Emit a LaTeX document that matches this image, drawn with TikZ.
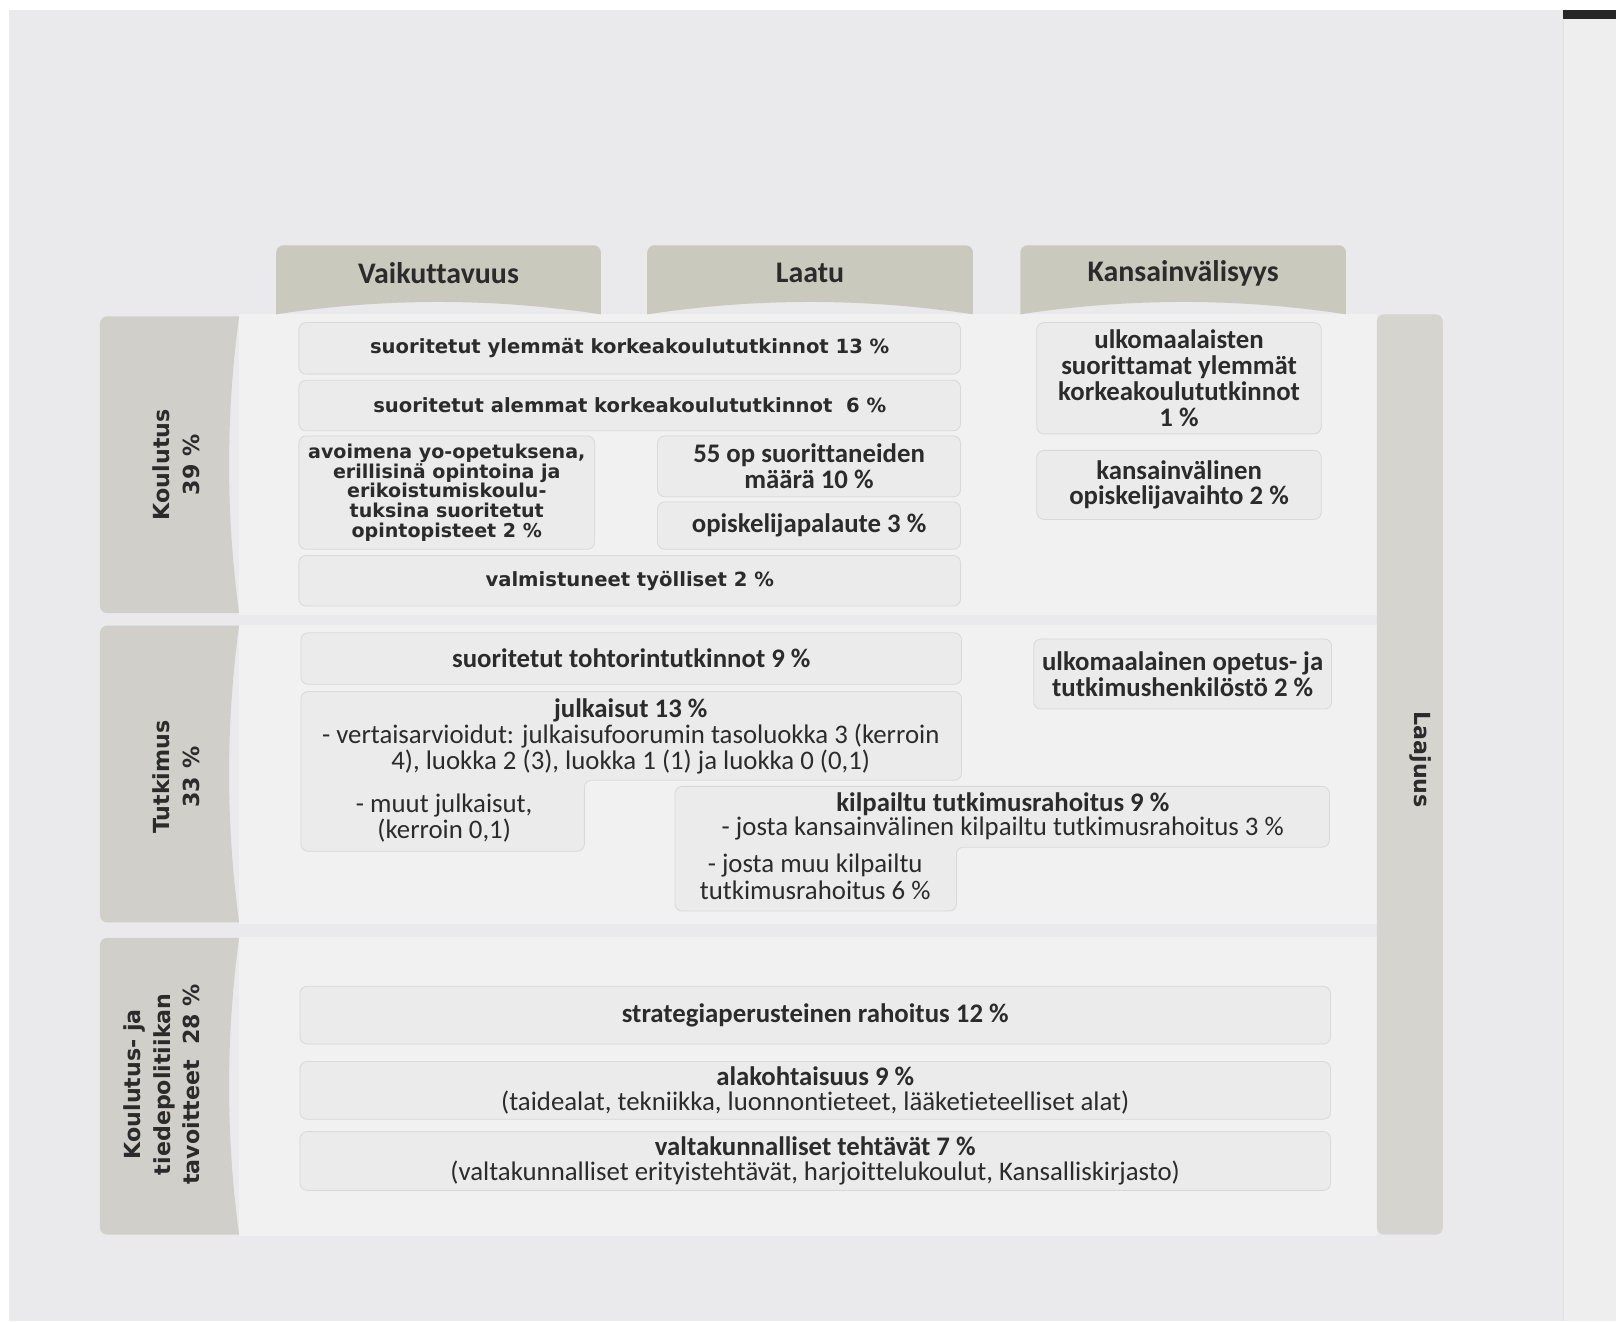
\documentclass[tikz,border=0pt]{standalone}
\usepackage{fontspec}
\setmainfont[Ligatures=NoCommon]{Carlito}
\newfontfamily\verd{DejaVu Sans}
\newfontfamily\calib[Ligatures=NoCommon]{Carlito}
\definecolor{paper}{HTML}{EAE9EC}
\definecolor{panel}{HTML}{F1F1F1}
\definecolor{boxfill}{HTML}{EBEBEC}
\definecolor{boxline}{HTML}{D9D9DA}
\definecolor{hdr}{HTML}{CAC9BE}
\definecolor{lbl}{HTML}{D0CFCA}
\definecolor{laaj}{HTML}{D6D4CF}
\definecolor{txt}{HTML}{2B2B2B}
\definecolor{strip}{HTML}{EEEEEE}
\newcommand\fcb{\calib\bfseries\fontsize{26}{25}\selectfont}
\newcommand\fcr{\calib\fontsize{26}{25}\selectfont}
\newcommand\fhd{\calib\bfseries\fontsize{29}{30}\selectfont}
\newcommand\fvb{\verd\bfseries\fontsize{19}{22}\selectfont}
\newcommand\fvs{\verd\bfseries\fontsize{18.5}{19}\selectfont}
\newcommand\fvl{\verd\bfseries\fontsize{21.5}{28.5}\selectfont}
\begin{document}
\begin{tikzpicture}[x=1pt,y=-1pt,
  cbox/.style={draw=boxline, fill=boxfill, rounded corners=7pt, line width=0.8pt,
    inner sep=0pt, align=center, text=txt},
  lshape/.style={draw=boxline, fill=boxfill, rounded corners=7pt, line width=0.8pt},
  plain/.style={inner sep=0pt, align=center, text=txt},
  rowband/.style={fill=panel}]
\useasboundingbox (0,0) rectangle (1568,1282);
\fill[white] (0,0) rectangle (1568,1282);
\fill[paper] (9,10) rectangle (1517,1282);
\fill[strip] (1517,10) rectangle (1568,1282);
\fill[black!85] (1517,10) rectangle (1568,18);
\draw[black!12, line width=1pt] (1517,18) -- (1517,1282);

% panel row bands
\fill[rowband] (232,305) rectangle (1336,597);
\fill[rowband] (232,606) rectangle (1336,897);
\fill[rowband] (232,909) rectangle (1336,1199);

% column headers
\foreach \xa/\xb in {268/583, 628/944, 990/1306}{
  \begin{scope}
    \clip (\xa-8,228) -- (\xb+8,228) -- (\xb+8,305) -- (\xb,305)
      .. controls ({\xb-(\xb-\xa)/3},289) and ({\xa+(\xb-\xa)/3},289) .. (\xa,305)
      -- (\xa-8,305) -- cycle;
    \fill[hdr, rounded corners=7pt] (\xa,238) rectangle (\xb,318);
  \end{scope}
}
\node[plain, font=\fhd] (h1) at (425.5,265) {Vaikuttavuus};
\node[plain, font=\fhd] (h2) at (786,265) {Laatu};
\node[plain, font=\fhd] (h3) at (1148,265) {Kansainvälisyys};

% row labels
\foreach \ya/\yb in {307/595, 607/895, 910/1198}{
  \begin{scope}
    \clip (90,\ya-5) -- (232,\ya-5) -- (232,\ya)
      .. controls (219,{\ya+(\yb-\ya)/3}) and (219,{\yb-(\yb-\ya)/3}) .. (232,\yb)
      -- (232,\yb+5) -- (90,\yb+5) -- cycle;
    \fill[lbl, rounded corners=7pt] (97,\ya) rectangle (245,\yb);
  \end{scope}
}
\node[plain, font=\fvl, rotate=90] (l1) at (171,451) {Koulutus\\39 \%};
\node[plain, font=\fvl, rotate=90] (l2) at (171,754) {Tutkimus\\33 \%};
\node[plain, font=\fvl, rotate=90] (l3) at (157,1052) {Koulutus- ja\\tiedepolitiikan\\tavoitteet\ \ 28 \%};

% Laajuus bar
\fill[laaj, rounded corners=7pt] (1336,305) rectangle (1400,1198);
\node[plain, font=\fvl, rotate=-90] (l4) at (1378,737) {Laajuus};

% Koulutus row
\node[cbox, font=\fvb, minimum width=642pt, minimum height=50pt] (b1) at (611,338)
  {suoritetut ylemmät korkeakoulututkinnot 13 \%};
\node[cbox, font=\fvb, minimum width=642pt, minimum height=49pt] (b2) at (611,393.5)
  {suoritetut alemmat korkeakoulututkinnot\ \ 6 \%};
\node[cbox, font=\fvs, minimum width=287pt, minimum height=110pt] (b3) at (433.5,478)
  {avoimena yo-opetuksena,\\erillisinä opintoina ja\\erikoistumiskoulu-\\tuksina suoritetut\\opintopisteet 2 \%};
\node[cbox, font=\fcb, minimum width=294pt, minimum height=59pt] (b4) at (785,452.5)
  {55 op suorittaneiden\\määrä 10 \%};
\node[cbox, font=\fcb, minimum width=294pt, minimum height=46pt] (b5) at (785,510)
  {opiskelijapalaute 3 \%};
\node[cbox, font=\fvb, minimum width=642pt, minimum height=49pt] (b6) at (611,563.5)
  {valmistuneet työlliset 2 \%};
\node[cbox, font=\fcb, minimum width=276pt, minimum height=108pt] (b7) at (1144,367)
  {ulkomaalaisten\\suorittamat ylemmät\\korkeakoulututkinnot\\1 \%};
\node[cbox, font=\fcb, minimum width=276pt, minimum height=67pt] (b8) at (1144,470.5)
  {kansainvälinen\\opiskelijavaihto 2 \%};

% Tutkimus row
\node[cbox, font=\fcb, minimum width=641pt, minimum height=50pt] (b9) at (612.5,639)
  {suoritetut tohtorintutkinnot 9 \%};
\node[cbox, font=\fcb, minimum width=289pt, minimum height=68pt] (b10) at (1147.5,654)
  {ulkomaalainen opetus- ja\\tutkimushenkilöstö 2 \%};

\draw[lshape] (292,671) -- (933,671) -- (933,757) -- (567,757) -- (567,826) -- (292,826) -- cycle;
\node[plain, font=\fcb] (j1) at (612,689) {julkaisut 13 \%};
\node[plain, font=\fcr] (j2) at (612,714) {- vertaisarvioidut: julkaisufoorumin tasoluokka 3 (kerroin};
\node[plain, font=\fcr] (j3) at (612,739) {4), luokka 2 (3), luokka 1 (1) ja luokka 0 (0,1)};
\node[plain, font=\fcr] (m1) at (431,782) {- muut julkaisut,};
\node[plain, font=\fcr] (m2) at (431,806) {(kerroin 0,1)};

\draw[lshape] (655,763) -- (1290,763) -- (1290,822) -- (928,822) -- (928,884) -- (655,884) -- cycle;
\node[plain, font=\fcb] (k1) at (973,780) {kilpailtu tutkimusrahoitus 9 \%};
\node[plain, font=\fcr] (k2) at (973,804) {- josta kansainvälinen kilpailtu tutkimusrahoitus 3 \%};
\node[plain, font=\fcr] (k3) at (791,840) {- josta muu kilpailtu};
\node[plain, font=\fcr] (k4) at (791,864) {tutkimusrahoitus 6 \%};

% policy row
\node[cbox, font=\fcb, minimum width=1000pt, minimum height=56pt] (b13) at (791,985)
  {strategiaperusteinen rahoitus 12 \%};
\node[cbox, font=\fcr, minimum width=1000pt, minimum height=56pt] (b14) at (791,1058)
  {{\bfseries alakohtaisuus 9 \%}\\(taidealat, tekniikka, luonnontieteet, lääketieteelliset alat)};
\node[cbox, font=\fcr, minimum width=1000pt, minimum height=57pt] (b15) at (791,1126.5)
  {{\bfseries valtakunnalliset tehtävät 7 \%}\\(valtakunnalliset erityistehtävät, harjoittelukoulut, Kansalliskirjasto)};
\end{tikzpicture}
\end{document}
